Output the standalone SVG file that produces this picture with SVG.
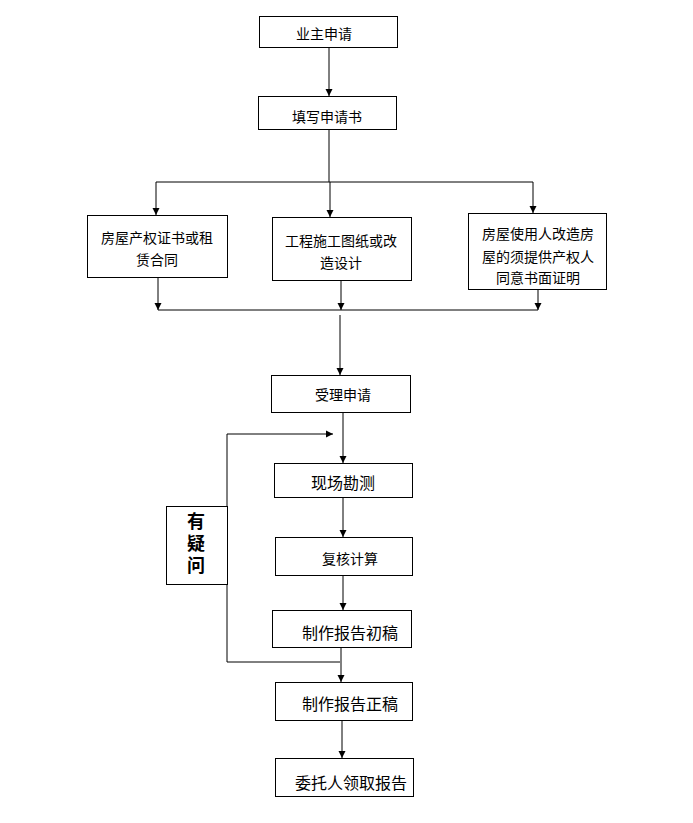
<svg xmlns="http://www.w3.org/2000/svg" width="693" height="823" viewBox="0 0 693 823">
<style>
.box{fill:#fff;stroke:#000;stroke-width:1}
.t{font-family:"Noto Sans CJK SC","Liberation Sans",sans-serif;font-size:14px;fill:#000;text-anchor:middle;dominant-baseline:central}
.l{font-size:16px}
.b{font-family:"Noto Sans CJK SC","Liberation Sans",sans-serif;font-size:18px;font-weight:bold;fill:#000;writing-mode:vertical-rl;letter-spacing:4px}
.ln{fill:none;stroke:#000;stroke-width:1}
.ar{fill:none;stroke:#000;stroke-width:1;marker-end:url(#ah)}
</style>
<defs>
<marker id="ah" markerWidth="8" markerHeight="8" refX="7" refY="4" orient="auto" markerUnits="userSpaceOnUse">
<path d="M0,0.5 L7,4 L0,7.5 Z" fill="#000"/>
</marker>
</defs>
<rect width="693" height="823" fill="#fff"/>
<g id="connectors">
<path class="ar" d="M329,47 V96"/>
<path class="ln" d="M329,129 V182"/>
<path class="ln" d="M156,182 H533"/>
<path class="ar" d="M156,182 V215"/>
<path class="ar" d="M330,182 V217"/>
<path class="ar" d="M533,182 V213"/>
<path class="ar" d="M158,277 V310"/>
<path class="ar" d="M341,280 V310"/>
<path class="ar" d="M538,289 V310"/>
<path class="ln" d="M158,310 H538"/>
<path class="ar" d="M340,315 V375"/>
<path class="ar" d="M343,412 V463"/>
<path class="ar" d="M227,434 H333"/>
<path class="ln" d="M227,434 V662 H340"/>
<path class="ar" d="M343,497 V537"/>
<path class="ar" d="M343,575 V610"/>
<path class="ar" d="M341,647 V682"/>
<path class="ar" d="M342,720 V758"/>
</g>
<g id="n1"><rect class="box" x="259.5" y="16.5" width="138" height="31"/><text class="t" x="324" y="33">业主申请</text></g>
<g id="n2"><rect class="box" x="258.5" y="96.5" width="138" height="33"/><text class="t" x="327" y="116">填写申请书</text></g>
<g id="n3"><rect class="box" x="87.5" y="215.5" width="140" height="62"/><text class="t" x="157" y="237">房屋产权证书或租</text><text class="t" x="157" y="259">赁合同</text></g>
<g id="n4"><rect class="box" x="272.5" y="217.5" width="139" height="63"/><text class="t" x="341" y="240">工程施工图纸或改</text><text class="t" x="341" y="262">造设计</text></g>
<g id="n5"><rect class="box" x="468.5" y="213.5" width="138" height="76"/><text class="t" x="538" y="233">房屋使用人改造房</text><text class="t" x="538" y="256">屋的须提供产权人</text><text class="t" x="538" y="277">同意书面证明</text></g>
<g id="n6"><rect class="box" x="271.5" y="375.5" width="139" height="37"/><text class="t" x="343" y="394">受理申请</text></g>
<g id="n7"><rect class="box" x="166.5" y="506.5" width="61" height="78"/><text class="b" x="196" y="512">有疑问</text></g>
<g id="n8"><rect class="box" x="274.5" y="463.5" width="138" height="34"/><text class="t l" x="343" y="482">现场勘测</text></g>
<g id="n9"><rect class="box" x="275.5" y="537.5" width="137" height="38"/><text class="t" x="350" y="558">复核计算</text></g>
<g id="n10"><rect class="box" x="272.5" y="610.5" width="139" height="37"/><text class="t l" x="350" y="632">制作报告初稿</text></g>
<g id="n11"><rect class="box" x="275.5" y="682.5" width="137" height="38"/><text class="t l" x="350" y="703">制作报告正稿</text></g>
<g id="n12"><rect class="box" x="275.5" y="758.5" width="138" height="38"/><text class="t l" x="351" y="782">委托人领取报告</text></g>
</svg>
